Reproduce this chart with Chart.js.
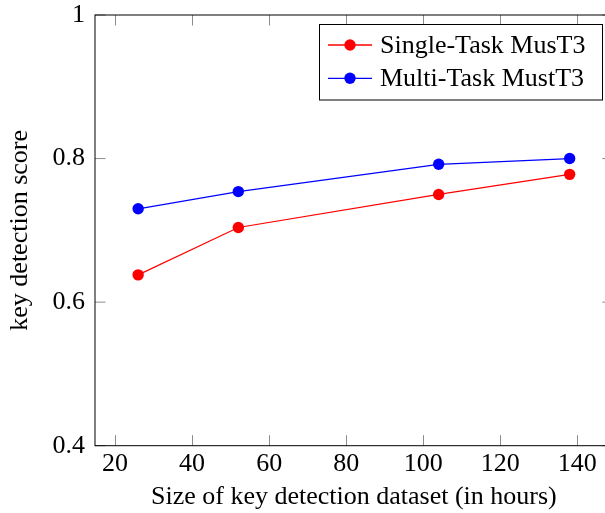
<!DOCTYPE html>
<html>
<head>
<meta charset="utf-8">
<script src="https://cdn.jsdelivr.net/npm/chart.js@4.4.1/dist/chart.umd.min.js"></script>
<style>
  html, body { margin: 0; padding: 0; background: #fff; overflow: hidden; }
  #wrap { width: 605px; height: 513px; overflow: hidden; position: relative; }
  canvas { display: block; }
</style>
</head>
<body>
<div id="wrap"><canvas id="c" width="625" height="513" style="width:625px;height:513px"></canvas></div>
<script>
// ---- data ----
const hours = [26, 52, 104, 138];
const singleTask = [0.638, 0.704, 0.750, 0.778];
const multiTask = [0.730, 0.754, 0.792, 0.800];
const seriesNames = ['Single-Task MusT3', 'Multi-Task MustT3'];
const xTickValues = [20, 40, 60, 80, 100, 120, 140];
const yTickValues = [0.4, 0.6, 0.8, 1.0];
const xTitle = 'Size of key detection dataset (in hours)';
const yTitle = 'key detection score';

const FONT = '"Liberation Serif", "Times New Roman", serif';

const framePlugin = {
  id: 'frame',
  afterDatasetsDraw(chart) {
    const ctx = chart.ctx, a = chart.chartArea;
    const xs = chart.scales.x, ys = chart.scales.y;
    ctx.save();
    // inward ticks on all sides
    ctx.strokeStyle = '#8c8c8c';
    ctx.lineWidth = 1;
    const tl = 10.5;
    xTickValues.forEach(v => {
      const px = Math.round(xs.getPixelForValue(v)) + 0.5;
      ctx.beginPath();
      ctx.moveTo(px, a.bottom); ctx.lineTo(px, a.bottom - tl);
      ctx.moveTo(px, a.top); ctx.lineTo(px, a.top + tl);
      ctx.stroke();
    });
    yTickValues.forEach(v => {
      const py = ys.getPixelForValue(v);
      ctx.beginPath();
      ctx.moveTo(a.left, py); ctx.lineTo(a.left + tl, py);
      ctx.moveTo(a.right, py); ctx.lineTo(a.right - tl, py);
      ctx.stroke();
    });
    // frame
    ctx.strokeStyle = '#000';
    ctx.lineWidth = 1;
    ctx.strokeRect(a.left, a.top, a.right - a.left, a.bottom - a.top);
    ctx.restore();
  },
  afterDraw(chart) {
    // legend box (north east)
    const ctx = chart.ctx;
    const bx = 319.5, by = 24.5, bw = 283, bh = 75.5;
    ctx.save();
    ctx.fillStyle = '#fff';
    ctx.fillRect(bx, by, bw, bh);
    ctx.strokeStyle = '#000';
    ctx.lineWidth = 1;
    ctx.strokeRect(bx, by, bw, bh);
    chart.data.datasets.forEach((ds, i) => {
      const cy = 45 + i * 33.3;
      ctx.strokeStyle = ds.borderColor;
      ctx.lineWidth = 1.3;
      ctx.beginPath(); ctx.moveTo(328, cy); ctx.lineTo(372, cy); ctx.stroke();
      ctx.fillStyle = ds.backgroundColor;
      ctx.beginPath(); ctx.arc(350, cy, 5.7, 0, Math.PI * 2); ctx.fill();
      ctx.fillStyle = '#000';
      ctx.font = '26px ' + FONT;
      ctx.textBaseline = 'middle';
      ctx.textAlign = 'left';
      ctx.fillText(ds.label, 380, cy + 1);
    });
    ctx.restore();
  }
};

new Chart(document.getElementById('c'), {
  type: 'line',
  data: {
    datasets: [
      {
        label: seriesNames[0],
        data: hours.map((h, i) => ({ x: h, y: singleTask[i] })),
        borderColor: '#ff0000', backgroundColor: '#ff0000',
        borderWidth: 1.2, pointRadius: 5.7, pointHoverRadius: 5.7,
        pointBorderWidth: 0, tension: 0
      },
      {
        label: seriesNames[1],
        data: hours.map((h, i) => ({ x: h, y: multiTask[i] })),
        borderColor: '#0000ff', backgroundColor: '#0000ff',
        borderWidth: 1.2, pointRadius: 5.7, pointHoverRadius: 5.7,
        pointBorderWidth: 0, tension: 0
      }
    ]
  },
  options: {
    responsive: false,
    animation: false,
    devicePixelRatio: 1,
    layout: { autoPadding: false, padding: { top: 15, right: 12.2, left: 0, bottom: 0 } },
    plugins: { legend: { display: false }, tooltip: { enabled: false } },
    scales: {
      x: {
        type: 'linear', min: 14.8, max: 149.2,
        afterBuildTicks: s => { s.ticks = xTickValues.map(v => ({ value: v })); },
        afterFit: s => { s.height = 513 - 445.7; s.paddingLeft = 0; s.paddingRight = 0; },
        grid: { display: false, drawTicks: false },
        border: { display: false },
        ticks: { color: '#000', font: { family: FONT, size: 26 }, padding: 3, maxRotation: 0, autoSkip: false },
        title: { display: true, text: xTitle, color: '#000', font: { family: FONT, size: 26 }, padding: { top: 0, bottom: 0 } }
      },
      y: {
        type: 'linear', min: 0.4, max: 1.0,
        afterBuildTicks: s => { s.ticks = yTickValues.map(v => ({ value: v })); },
        afterFit: s => { s.width = 95; s.paddingTop = 0; s.paddingBottom = 0; },
        grid: { display: false, drawTicks: false },
        border: { display: false },
        ticks: { color: '#000', font: { family: FONT, size: 26, lineHeight: 1 }, padding: 10,
                 callback: v => String(Number(v.toFixed(1))) },
        title: { display: true, text: yTitle, color: '#000', font: { family: FONT, size: 26 }, padding: { top: 5, bottom: 0 } }
      }
    }
  },
  plugins: [framePlugin]
});
</script>
</body>
</html>
